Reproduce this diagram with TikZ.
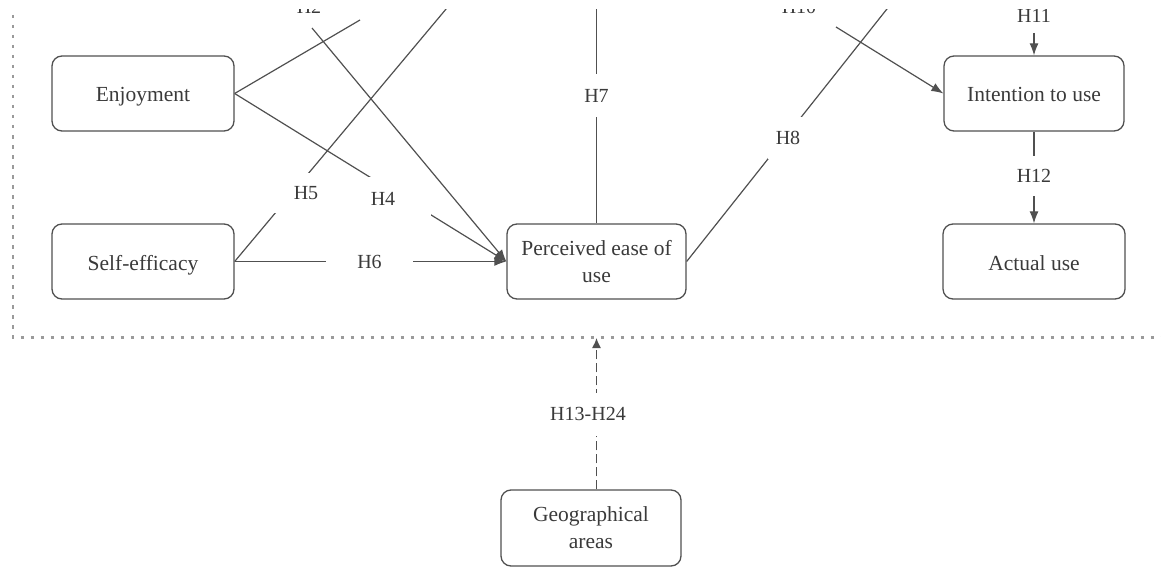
\documentclass[tikz,border=0pt]{standalone}
\usepackage{fontspec}
\setmainfont{Liberation Serif}
\usetikzlibrary{arrows.meta}
\definecolor{ink}{HTML}{505050}
\definecolor{txt}{HTML}{3A3A3A}
\definecolor{dotc}{HTML}{9A9A9A}
\begin{document}
\begin{tikzpicture}[x=1pt,y=-1pt,
  box/.style={draw=ink, line width=1.3pt, rounded corners=10pt, minimum width=182pt,
    minimum height=75pt, align=center, font=\fontsize{21.5}{27}\selectfont, text=txt, inner sep=0pt},
  onebox/.style={box, text height=17pt, text depth=0pt},
  link/.style={draw=ink, line width=1.2pt},
  arr/.style={link, -{Latex[length=12pt,width=9pt]}},
  lab/.style={font=\fontsize{20}{23}\selectfont, text=txt, fill=white, inner sep=0pt},
  toplab/.style={font=\fontsize{20}{23}\selectfont, text=txt, anchor=base, inner sep=0pt},
  frame/.style={draw=dotc, line width=2.8pt, dash pattern=on 3.5pt off 6.5pt},
  gdash/.style={draw=ink, line width=1.3pt, dash pattern=on 9pt off 4pt, -{Latex[length=10pt,width=9pt]}}]
\useasboundingbox (0,0) rectangle (1161,567);
\begin{scope}
\clip (0,10) rectangle (1161,567);

% frame
\draw[frame] (13,-5) -- (13,337.5) -- (1180,337.5);

% boxes
\node[onebox] (enj) at (143,93.5) {Enjoyment};
\node[onebox] (sel) at (143,261.5) {Self-efficacy};
\node[box, minimum width=179pt] (peou) at (596.5,261.5) {Perceived ease of\\use};
\node[onebox, minimum width=180pt] (itu) at (1034,93.5) {Intention to use};
\node[onebox] (act) at (1034,261.5) {Actual use};
\node[box, minimum width=180pt, minimum height=76pt] (geo) at (591,528) {Geographical\\areas};

% free ends above the view
\coordinate (t1) at (360,20);
\coordinate (t2) at (312,28);
\coordinate (t5) at (462,-10);
\coordinate (t7) at (596.5,-10);
\coordinate (t8) at (902,-10);
\coordinate (t10) at (836,27);
\coordinate (t11) at (1034,33);
\coordinate (gtop) at (596.5,338);

% connectors
\draw[link] (enj.east) -- (t1);
\draw[arr] (t2) -- (peou.west);
\draw[arr] (enj.east) -- (peou.west);
\draw[link] (sel.east) -- (t5);
\draw[arr] (sel.east) -- (peou.west);
\draw[link] (peou.north) -- (t7);
\draw[link] (peou.east) -- (t8);
\draw[arr] (t10) -- (itu.west);
\draw[arr] (t11) -- (itu.north);
\draw[arr] (itu.south) -- (act.north);
\draw[gdash] (geo.north -| peou.center) -- (gtop);

% labels (white boxes open the gaps)
\node[lab, minimum width=96pt, minimum height=44pt] (h4) at (383,199) {H4};
\node[lab, minimum width=66pt, minimum height=40pt] (h5) at (306,193) {H5};
\node[lab, minimum width=87pt, minimum height=30pt] (h6) at (369.5,262) {H6};
\node[lab, minimum width=30pt, minimum height=43pt] (h7) at (596.5,95.5) {H7};
\node[lab, minimum width=40pt, minimum height=41pt] (h8) at (788,138) {H8};
\node[lab, minimum width=40pt, minimum height=40pt] (h12) at (1034,176) {H12};
\node[lab, minimum width=80pt, minimum height=43pt] (h13) at (588,414) {H13-H24};
\node[toplab] (h2) at (309,13.5) {H2};
\node[toplab] (h10) at (799,14) {H10};
\node[toplab] (h11) at (1034,22.5) {H11};
\end{scope}
\end{tikzpicture}
\end{document}
